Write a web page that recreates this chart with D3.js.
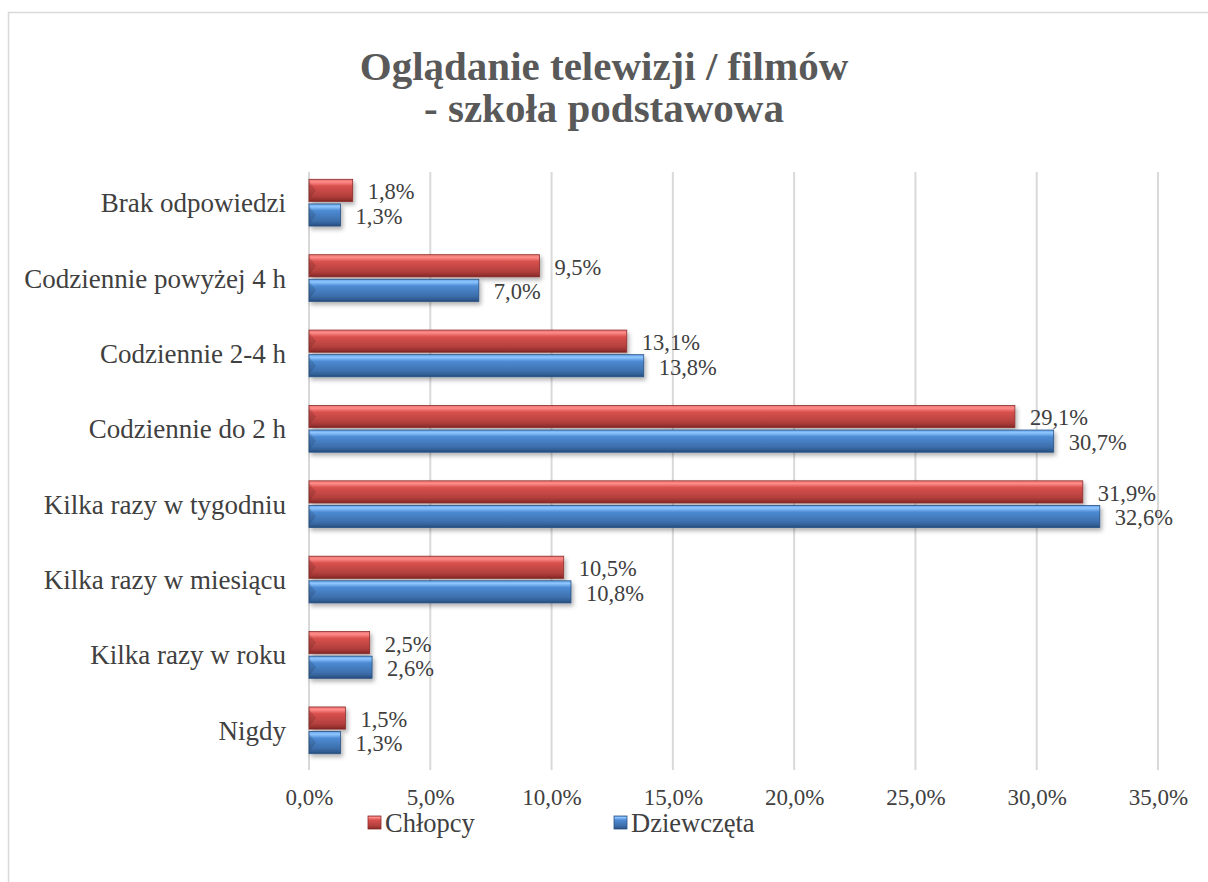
<!DOCTYPE html>
<html><head><meta charset="utf-8">
<script src="https://cdn.jsdelivr.net/npm/d3@7"></script>
<style>body{margin:0;background:#fff}</style>
</head><body>
<svg id="c" width="1208" height="882"></svg>
<script>
const categories = ["Brak odpowiedzi","Codziennie powyżej 4 h","Codziennie 2-4 h","Codziennie do 2 h","Kilka razy w tygodniu","Kilka razy w miesiącu","Kilka razy w roku","Nigdy"];
const chlopcy = [1.8, 9.5, 13.1, 29.1, 31.9, 10.5, 2.5, 1.5];
const dziewczeta = [1.3, 7.0, 13.8, 30.7, 32.6, 10.8, 2.6, 1.3];
const seriesNames = ["Chłopcy","Dziewczęta"];
const xTicks = [0,5,10,15,20,25,30,35];
const titleLines = ["Oglądanie telewizji / filmów","- szkoła podstawowa"];

const svg = d3.select("#c");
const font = "'Liberation Serif','Times New Roman',serif";
const txt = "#404040";

// border
svg.append("rect").attr("x",8.5).attr("y",12.5).attr("width",1210).attr("height",880)
  .attr("fill","#fff").attr("stroke","#d9d9d9").attr("stroke-width",1.5);

const defs = svg.append("defs");
function grad(id, stops){
  const g = defs.append("linearGradient").attr("id",id).attr("x1",0).attr("y1",0).attr("x2",0).attr("y2",1);
  stops.forEach(s=>g.append("stop").attr("offset",s[0]).attr("stop-color",s[1]));
}
grad("gRed",[[0,"#e87370"],[0.12,"#ff8c89"],[0.3,"#d9514e"],[0.75,"#b3403d"],[0.9,"#9a3230"],[1,"#7a2422"]]);
grad("gBlue",[[0,"#62a2e8"],[0.12,"#8fc6ff"],[0.3,"#4d8bd4"],[0.75,"#3d6fac"],[0.9,"#315d93"],[1,"#244a78"]]);
const f = defs.append("filter").attr("id","sh").attr("x","-10%").attr("y","-30%").attr("width","130%").attr("height","180%");
f.append("feDropShadow").attr("dx",2).attr("dy",3).attr("stdDeviation",2).attr("flood-color","#000").attr("flood-opacity",0.3);

const x = d3.scaleLinear().domain([0,35]).range([309,1158]);
const y = d3.scaleBand().domain(categories).range([165,768]).paddingInner(0.38).paddingOuter(0.19);
const sub = d3.scaleBand().domain(seriesNames).range([0,y.bandwidth()]).paddingInner(0.1);

// gridlines
svg.append("g").selectAll("line").data(xTicks).join("line")
  .attr("x1",d=>x(d)).attr("x2",d=>x(d)).attr("y1",172).attr("y2",770)
  .attr("stroke","#d9d9d9").attr("stroke-width",2);

// axis labels
const xAxis = d3.axisBottom(x).tickValues(xTicks).tickSize(0).tickPadding(0)
  .tickFormat(d=>d.toFixed(1).replace(".",",")+"%");
const ga = svg.append("g").attr("transform","translate(0,797)").call(xAxis);
ga.select(".domain").remove();
ga.selectAll("text").attr("font-family",font).attr("font-size",23).attr("fill",txt).attr("dy","0.35em");

// category labels
svg.append("g").selectAll("text").data(categories).join("text")
  .attr("x",286).attr("y",d=>y(d)+y.bandwidth()/2).attr("dy","0.35em")
  .attr("text-anchor","end").attr("font-family",font).attr("font-size",27).attr("fill",txt)
  .text(d=>d);

const series = [
  {name:"Chłopcy", vals:chlopcy, fill:"url(#gRed)", stroke:"#8c2d2b"},
  {name:"Dziewczęta", vals:dziewczeta, fill:"url(#gBlue)", stroke:"#2a5285"}
];
series.forEach(s=>{
  const g = svg.append("g");
  const data = categories.map((c,i)=>({c, v:s.vals[i]}));
  g.selectAll("rect").data(data).join("rect")
    .attr("x",x(0)).attr("y",d=>y(d.c)+sub(s.name))
    .attr("width",d=>x(d.v)-x(0)).attr("height",sub.bandwidth())
    .attr("fill",s.fill).attr("stroke",s.stroke).attr("stroke-width",0.8)
    .attr("filter","url(#sh)");
  // bevel left triangle
  g.selectAll("path").data(data).join("path")
    .attr("d",d=>{const y0=y(d.c)+sub(s.name), h=sub.bandwidth(), x0=x(0);
      return `M${x0},${y0+2} L${x0+7},${y0+h/2} L${x0},${y0+h-2} Z`;})
    .attr("fill","#000").attr("opacity",0.12);
  g.selectAll("text").data(data).join("text")
    .attr("x",d=>x(d.v)+15).attr("y",d=>y(d.c)+sub(s.name)+sub.bandwidth()/2+1).attr("dy","0.35em")
    .attr("font-family",font).attr("font-size",22.5).attr("fill",txt)
    .text(d=>d.v.toFixed(1).replace(".",",")+"%");
});

// title
svg.append("g").selectAll("text").data(titleLines).join("text")
  .attr("x",604).attr("y",(d,i)=>80+i*42).attr("text-anchor","middle")
  .attr("font-family",font).attr("font-size",41).attr("font-weight","bold").attr("fill","#595959")
  .text(d=>d);

// legend
const leg = [{name:seriesNames[0], fill:"url(#gRed)", stroke:"#8c2d2b", x:368},{name:seriesNames[1], fill:"url(#gBlue)", stroke:"#2a5285", x:614}];
const lg = svg.append("g").selectAll("g").data(leg).join("g").attr("transform",d=>`translate(${d.x},0)`);
lg.append("rect").attr("x",0).attr("y",816).attr("width",13).attr("height",13)
  .attr("fill",d=>d.fill).attr("stroke",d=>d.stroke).attr("stroke-width",0.8);
lg.append("text").attr("x",17).attr("y",823).attr("dy","0.35em")
  .attr("font-family",font).attr("font-size",26.5).attr("fill",txt).text(d=>d.name);
</script>
</body></html>
